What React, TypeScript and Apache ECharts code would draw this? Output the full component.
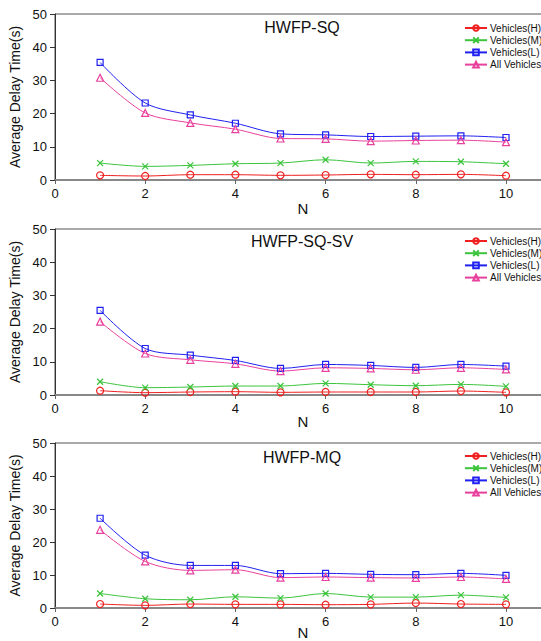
import React, { useEffect, useRef } from "react";
import * as echarts from "echarts";

const xValues = [1, 2, 3, 4, 5, 6, 7, 8, 9, 10];
const seriesNames = ["Vehicles(H)", "Vehicles(M)", "Vehicles(L)", "All Vehicles"];
const panelTitles = ["HWFP-SQ", "HWFP-SQ-SV", "HWFP-MQ"];

const sqH = [1.4, 1.2, 1.6, 1.6, 1.4, 1.5, 1.7, 1.6, 1.7, 1.3];
const sqM = [5.1, 4.1, 4.4, 4.9, 5.1, 6.1, 5.1, 5.6, 5.5, 4.9];
const sqL = [35.4, 23.2, 19.6, 17.1, 13.9, 13.6, 13.1, 13.2, 13.3, 12.8];
const sqAll = [30.8, 20.2, 17.2, 15.3, 12.5, 12.4, 11.7, 11.9, 12.0, 11.4];

const svH = [1.3, 0.7, 0.9, 1.0, 0.8, 0.9, 0.9, 0.9, 1.2, 0.8];
const svM = [4.0, 2.2, 2.4, 2.7, 2.7, 3.5, 3.1, 2.8, 3.2, 2.6];
const svL = [25.5, 14.0, 12.0, 10.4, 8.0, 9.2, 8.9, 8.3, 9.2, 8.7];
const svAll = [22.1, 12.5, 10.6, 9.4, 7.2, 8.2, 8.0, 7.6, 8.2, 7.7];

const mqH = [1.2, 0.8, 1.2, 1.1, 1.1, 1.0, 1.1, 1.5, 1.2, 1.1];
const mqM = [4.4, 2.8, 2.5, 3.4, 3.0, 4.4, 3.3, 3.3, 3.9, 3.2];
const mqL = [27.2, 16.0, 12.9, 12.9, 10.4, 10.5, 10.2, 10.1, 10.5, 9.9];
const mqAll = [23.7, 14.1, 11.4, 11.6, 9.2, 9.4, 9.2, 9.1, 9.4, 8.8];

const yTicks = [0, 10, 20, 30, 40, 50];
const xTicks = [0, 2, 4, 6, 8, 10];

const panels = [
  [sqH, sqM, sqL, sqAll],
  [svH, svM, svL, svAll],
  [mqH, mqM, mqL, mqAll],
];

const colors = ["#ee2020", "#3cc43c", "#2020f0", "#e8409c"];
const symbols = [
  "circle",
  "path://M0,0 L10,10 M10,0 L0,10 M5,3 L5,7 M3,5 L7,5",
  "rect",
  "triangle",
];
const symbolSizes = [7, 6, 6, 7];
const FONT = "Liberation Sans, Arial, sans-serif";

export default function App() {
  const ref = useRef<HTMLDivElement>(null);
  useEffect(() => {
    if (!ref.current) return;
    const chart = echarts.init(ref.current, undefined, { renderer: "svg" });
    const tops = [14, 229, 443];
    const heights = [166, 166, 165];
    const titleY = [27, 241, 457];
    const nY = [208, 421, 632];
    const legendTop = [23, 236, 451];
    const unit = 45.1;
    const xMax = 11;

    const grids = tops.map((t, i) => ({
      left: 55,
      top: t,
      width: unit * xMax,
      height: heights[i],
      show: true,
      borderColor: "#555",
      borderWidth: 1,
      backgroundColor: "transparent",
      outerBoundsMode: "none",
      containLabel: false,
    }));

    const xAxes = tops.map((_, i) => ({
      type: "value",
      gridIndex: i,
      min: 0,
      max: xMax,
      interval: 2,
      axisLine: { show: true, onZero: false, lineStyle: { color: "#888", width: 2 } },
      axisTick: { show: true, inside: false, length: 4, lineStyle: { color: "#666" } },
      axisLabel: {
        color: "#111",
        fontSize: 13,
        fontFamily: FONT,
        margin: 7,
        formatter: (v: number) => (xTicks.includes(v) ? String(v) : ""),
      },
      splitLine: { show: false },
    }));

    const yAxes = tops.map((_, i) => ({
      type: "value",
      gridIndex: i,
      min: 0,
      max: 50,
      interval: 10,
      name: "Average Delay Time(s)",
      nameLocation: "middle",
      nameGap: 25,
      nameTextStyle: { color: "#111", fontSize: 14, fontFamily: FONT },
      axisLine: { show: true, lineStyle: { color: "#333", width: 1 } },
      axisTick: { show: true, inside: false, length: 5, lineStyle: { color: "#333" } },
      axisLabel: {
        color: "#111",
        fontSize: 13,
        fontFamily: FONT,
        margin: 8,
        formatter: (v: number) => (yTicks.includes(v) ? String(v) : ""),
      },
      splitLine: { show: false },
    }));

    const series: any[] = [];
    panels.forEach((data, p) => {
      data.forEach((vals, s) => {
        series.push({
          type: "line",
          name: seriesNames[s],
          xAxisIndex: p,
          yAxisIndex: p,
          data: xValues.map((x, k) => [x, vals[k]]),
          smooth: 0.3,
          symbol: symbols[s],
          symbolSize: symbolSizes[s],
          showSymbol: true,
          lineStyle: { color: colors[s], width: 1 },
          itemStyle: {
            color: "rgba(255,255,255,0)",
            borderColor: colors[s],
            borderWidth: 1.2,
          },
          z: 3,
        });
      });
    });

    const legends = legendTop.map((t) => ({
      orient: "vertical",
      left: 464,
      top: t,
      itemWidth: 22,
      itemHeight: 7,
      itemGap: 2.2,
      data: seriesNames,
      selectedMode: false,
      textStyle: {
        color: "#111",
        fontSize: 10,
        lineHeight: 10,
        fontFamily: FONT,
        padding: [0, 0, 0, -2],
      },
      padding: 0,
    }));

    const graphics: any[] = [];
    panelTitles.forEach((t, i) => {
      graphics.push({
        type: "text",
        x: 302,
        y: titleY[i],
        style: {
          text: t,
          fill: "#111",
          fontSize: 16,
          fontFamily: FONT,
          textAlign: "center",
          textVerticalAlign: "middle",
        },
      });
      graphics.push({
        type: "text",
        x: 303,
        y: nY[i],
        style: {
          text: "N",
          fill: "#111",
          fontSize: 15,
          fontFamily: FONT,
          textAlign: "center",
          textVerticalAlign: "middle",
        },
      });
    });

    chart.setOption({
      animation: false,
      backgroundColor: "#fff",
      grid: grids,
      xAxis: xAxes,
      yAxis: yAxes,
      legend: legends,
      series,
      graphic: graphics,
    });
    return () => chart.dispose();
  }, []);
  return (
    <div
      ref={ref}
      style={{ position: "fixed", left: 0, top: 0, width: 541, height: 641 }}
    />
  );
}
